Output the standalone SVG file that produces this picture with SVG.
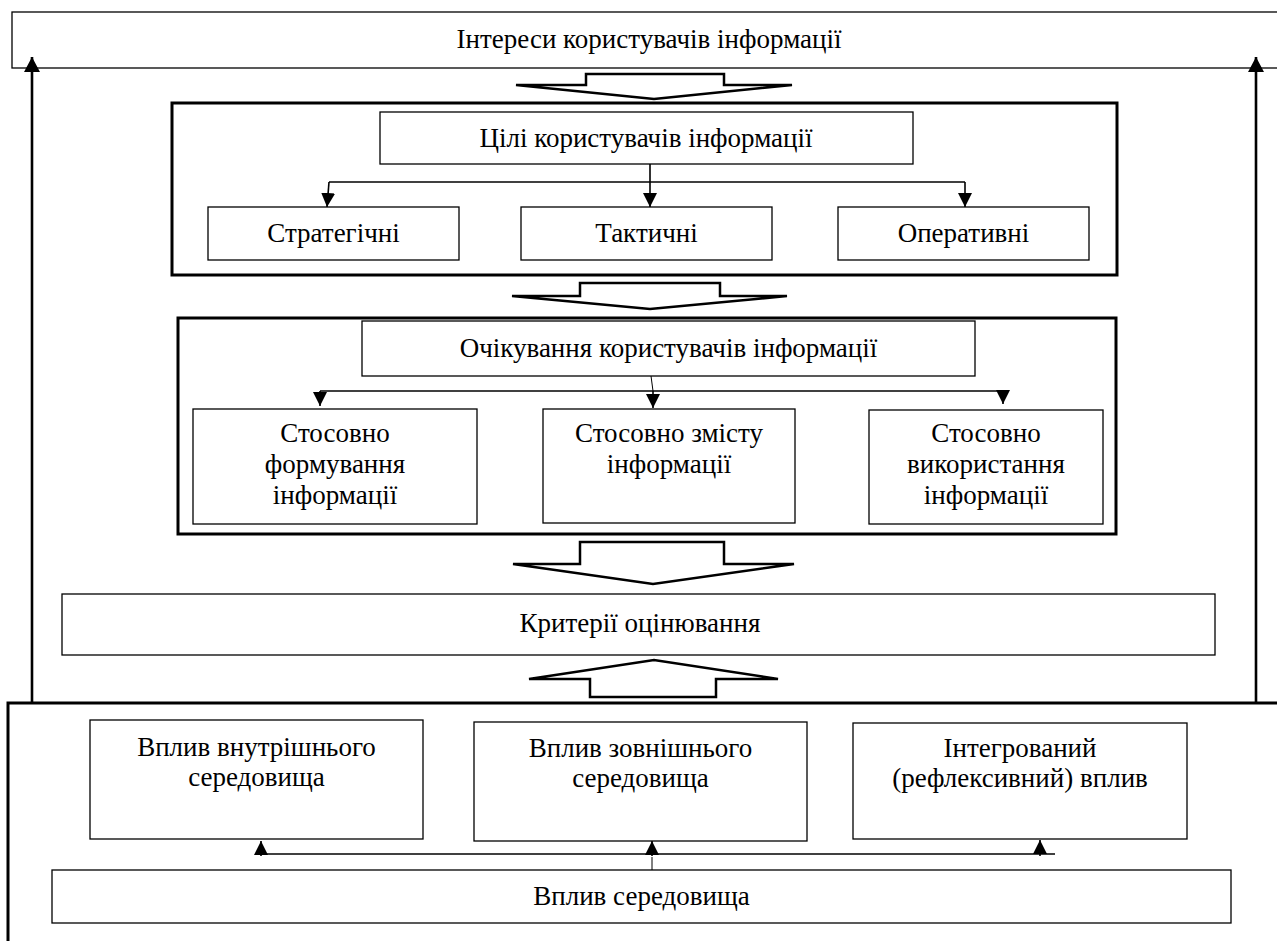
<svg xmlns="http://www.w3.org/2000/svg" width="1277" height="941" viewBox="0 0 1277 941">
  <style>
    .box { fill: #fff; stroke: #000; stroke-width: 1.3; }
    .group { fill: none; stroke: #000; stroke-width: 3; }
    .block { fill: #fff; stroke: #000; stroke-width: 2.5; }
    .conn { fill: none; stroke: #000; stroke-width: 1.6; }
    .thin { fill: none; stroke: #000; stroke-width: 1; }
    .long { fill: none; stroke: #000; stroke-width: 2.6; }
  </style>
  <defs>
    <marker id="ah" viewBox="0 0 14 14" refX="14" refY="7" markerWidth="14" markerHeight="14" markerUnits="userSpaceOnUse" orient="auto">
      <path d="M0,0 L14,7 L0,14 z" fill="#000"/>
    </marker>
    <marker id="ahL" viewBox="0 0 15 16" refX="15" refY="8" markerWidth="15" markerHeight="16" markerUnits="userSpaceOnUse" orient="auto">
      <path d="M0,0 L15,8 L0,16 z" fill="#000"/>
    </marker>
  </defs>

  <rect width="1277" height="941" fill="#fff"/>

  <g id="frames">
    <rect class="group" x="8" y="703" width="1290" height="260"/>
    <rect class="group" x="172" y="103" width="945" height="172"/>
    <rect class="group" x="178" y="318" width="938" height="216"/>
  </g>

  <g id="interests">
    <rect class="box" x="12" y="12" width="1280" height="56"/>
    <text style="font-family: 'Liberation Serif', serif" font-size="27" text-anchor="middle" x="649" y="48">Інтереси користувачів інформації</text>
  </g>
  <g id="goals">
    <rect class="box" x="380" y="112" width="533" height="52"/>
    <text style="font-family: 'Liberation Serif', serif" font-size="27" text-anchor="middle" x="646" y="147">Цілі користувачів інформації</text>
  </g>
  <g id="strategic">
    <rect class="box" x="208" y="207" width="251" height="53"/>
    <text style="font-family: 'Liberation Serif', serif" font-size="27" text-anchor="middle" x="333.5" y="242">Стратегічні</text>
  </g>
  <g id="tactical">
    <rect class="box" x="521" y="207" width="251" height="53"/>
    <text style="font-family: 'Liberation Serif', serif" font-size="27" text-anchor="middle" x="646.5" y="242">Тактичні</text>
  </g>
  <g id="operative">
    <rect class="box" x="838" y="207" width="251" height="53"/>
    <text style="font-family: 'Liberation Serif', serif" font-size="27" text-anchor="middle" x="963.5" y="242">Оперативні</text>
  </g>
  <g id="expectations">
    <rect class="box" x="362" y="321" width="613" height="55"/>
    <text style="font-family: 'Liberation Serif', serif" font-size="27" text-anchor="middle" x="668.5" y="357">Очікування користувачів інформації</text>
  </g>
  <g id="exp-formation">
    <rect class="box" x="193" y="409" width="284" height="115"/>
    <text style="font-family: 'Liberation Serif', serif" font-size="27" text-anchor="middle" x="335" y="442">Стосовно</text>
    <text style="font-family: 'Liberation Serif', serif" font-size="27" text-anchor="middle" x="335" y="473">формування</text>
    <text style="font-family: 'Liberation Serif', serif" font-size="27" text-anchor="middle" x="335" y="504">інформації</text>
  </g>
  <g id="exp-content">
    <rect class="box" x="543" y="409" width="252" height="114"/>
    <text style="font-family: 'Liberation Serif', serif" font-size="27" text-anchor="middle" x="669" y="442">Стосовно змісту</text>
    <text style="font-family: 'Liberation Serif', serif" font-size="27" text-anchor="middle" x="669" y="473">інформації</text>
  </g>
  <g id="exp-usage">
    <rect class="box" x="869" y="410" width="234" height="114"/>
    <text style="font-family: 'Liberation Serif', serif" font-size="27" text-anchor="middle" x="986" y="442">Стосовно</text>
    <text style="font-family: 'Liberation Serif', serif" font-size="27" text-anchor="middle" x="986" y="473">використання</text>
    <text style="font-family: 'Liberation Serif', serif" font-size="27" text-anchor="middle" x="986" y="504">інформації</text>
  </g>
  <g id="criteria">
    <rect class="box" x="62" y="594" width="1153" height="61"/>
    <text style="font-family: 'Liberation Serif', serif" font-size="27" text-anchor="middle" x="640" y="632">Критерії оцінювання</text>
  </g>
  <g id="internal">
    <rect class="box" x="90" y="720" width="333" height="119"/>
    <text style="font-family: 'Liberation Serif', serif" font-size="27" text-anchor="middle" x="256.5" y="756">Вплив внутрішнього</text>
    <text style="font-family: 'Liberation Serif', serif" font-size="27" text-anchor="middle" x="256.5" y="786">середовища</text>
  </g>
  <g id="external">
    <rect class="box" x="474" y="722" width="333" height="119"/>
    <text style="font-family: 'Liberation Serif', serif" font-size="27" text-anchor="middle" x="640.5" y="757">Вплив зовнішнього</text>
    <text style="font-family: 'Liberation Serif', serif" font-size="27" text-anchor="middle" x="640.5" y="787">середовища</text>
  </g>
  <g id="integrated">
    <rect class="box" x="853" y="723" width="334" height="116"/>
    <text style="font-family: 'Liberation Serif', serif" font-size="27" text-anchor="middle" x="1020" y="757">Інтегрований</text>
    <text style="font-family: 'Liberation Serif', serif" font-size="27" text-anchor="middle" x="1020" y="787">(рефлексивний) вплив</text>
  </g>
  <g id="environment">
    <rect class="box" x="52" y="870" width="1179" height="53"/>
    <text style="font-family: 'Liberation Serif', serif" font-size="27" text-anchor="middle" x="641.5" y="905">Вплив середовища</text>
  </g>

  <g id="connectors">
    <polygon class="block" points="586,74 724,74 724,85 792,85 654,99 516,85 586,85"/>
    <polygon class="block" points="580,283 720,283 720,296 787,296 650,309 512,296 580,296"/>
    <polygon class="block" points="580,542 724,542 724,564 794,564 653,584 513,564 580,564"/>
    <polygon class="block" points="590,697 716,697 716,679 778,679 654,660 529,679 590,679"/>

    <line class="long" x1="32" y1="703" x2="32" y2="57" marker-end="url(#ahL)"/>
    <line class="long" x1="1256" y1="703" x2="1256" y2="57" marker-end="url(#ahL)"/>

    <path class="conn" d="M650,164 V207" marker-end="url(#ah)"/>
    <path class="conn" d="M329,182 H965"/>
    <path class="conn" d="M329,182 L327,207" marker-end="url(#ah)"/>
    <path class="conn" d="M965,182 V207" marker-end="url(#ah)"/>

    <path class="thin" d="M651,376 L653,391"/>
    <path class="conn" d="M320,391 H1003"/>
    <path class="conn" d="M320,391 V406" marker-end="url(#ah)"/>
    <path class="conn" d="M653,391 V408" marker-end="url(#ah)"/>
    <path class="conn" d="M1003,391 V404" marker-end="url(#ah)"/>

    <path class="conn" d="M261,854 H1055"/>
    <path class="conn" d="M261,856 V841" marker-end="url(#ah)"/>
    <path class="conn" d="M652,856 V841" marker-end="url(#ah)"/>
    <path class="conn" d="M1040,856 V840" marker-end="url(#ah)"/>
    <path class="thin" d="M652,857 V870"/>
  </g>
</svg>
